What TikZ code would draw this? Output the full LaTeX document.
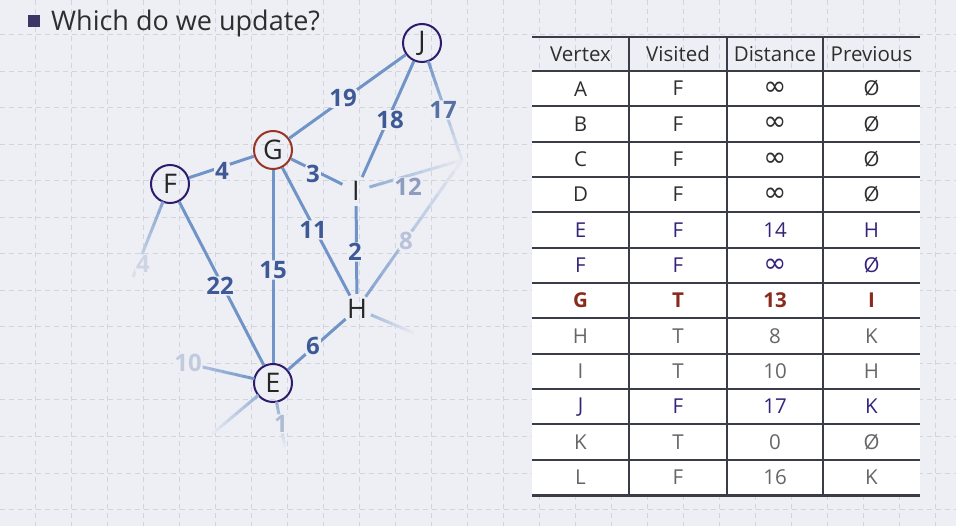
\documentclass[tikz,border=0pt]{standalone}
\usepackage{fontspec}
\setmainfont{Open Sans}
\newfontfamily\symf{DejaVu Sans}
\usetikzlibrary{calc}
\definecolor{bgc}{HTML}{EEEFF4}
\definecolor{gridc}{HTML}{D2D4DE}
\definecolor{edgeblue}{HTML}{7094C8}
\definecolor{lblblue}{HTML}{3E5A96}
\definecolor{vpurple}{HTML}{2E1B6E}
\definecolor{vred}{HTML}{9A3424}
\definecolor{tdark}{HTML}{2E2E2E}
\definecolor{tgray}{HTML}{666666}
\definecolor{tpurple}{HTML}{35237A}
\definecolor{tred}{HTML}{8A2A1C}
\definecolor{rulec}{HTML}{3A3C48}
\definecolor{bulletc}{HTML}{3D3566}
\newcommand\infsym{{\symf\scalebox{1.35}{∞}}}
\newcommand\fadeedge[5]{%
  \path ($(#1.center)!#3!(#2)$) coordinate (fs) (#2) coordinate (fe);
  \foreach \i in {0,...,11}{%
    \pgfmathtruncatemacro\pc{#4+(#5-#4)*(\i+0.5)/12}%
    \pgfmathsetmacro\ta{\i/12}%
    \pgfmathsetmacro\tb{(\i+1)/12}%
    \draw[line width=3pt, color=edgeblue!\pc!bgc] ($(fs)!\ta!(fe)$) -- ($(fs)!\tb!(fe)$);
  }}
\begin{document}
\begin{tikzpicture}[x=1pt,y=-1pt,
  edgeline/.style={line width=3pt, draw=edgeblue},
  vtx/.style={circle, draw, line width=2pt, minimum size=38pt, inner sep=0pt, font=\fontsize{27}{27}\selectfont, text=black!85},
  bare/.style={circle, minimum size=30pt, inner sep=0pt, font=\fontsize{27}{27}\selectfont, text=black!85},
  lbl/.style={font=\fontsize{24}{24}\selectfont\bfseries, text=lblblue, fill=bgc, inner sep=1pt, rounded corners=3pt},
  cell/.style={font=\fontsize{20.5}{20.5}\selectfont, anchor=center, inner sep=0pt},
  gridline/.style={gridc, line width=1pt, dash pattern=on 5pt off 4pt},
]
\fill[bgc] (0,0) rectangle (956,526);
\useasboundingbox (0,0) rectangle (956,526);
% grid
\foreach \k in {1,...,26} \draw[gridline] ({36*\k-1},0) -- ({36*\k-1},526);
\foreach \k in {0,...,13} \draw[gridline] (0,{35+36.5*\k}) -- (956,{35+36.5*\k});
% title
\fill[bulletc] (28,15) rectangle (40,27);
\node[anchor=base west, font=\fontsize{27}{27}\selectfont, text=black!82, inner sep=0pt] (title) at (51,31) {Which do we update?};
% vertices
\node[vtx, draw=vpurple] (J) at (422,43) {J};
\node[vtx, draw=vred] (G) at (273,150) {G};
\node[vtx, draw=vpurple] (F) at (170,184) {F};
\node[vtx, draw=vpurple] (E) at (273,383) {E};
\node[bare] (I) at (356,191) {I};
\node[bare] (H) at (357,309) {H};
\coordinate (K) at (462,160);
\coordinate (L) at (414,333);
\coordinate (fA) at (133,277);
\coordinate (e10) at (176,361);
\coordinate (e5) at (212,434);
\coordinate (e1) at (285,447);
% full edges
\draw[edgeline] (J) -- (G);
\draw[edgeline] (J) -- (I);
\draw[edgeline] (G) -- (F);
\draw[edgeline] (G) -- (I);
\draw[edgeline] (G) -- (H);
\draw[edgeline] (G) -- (E);
\draw[edgeline] (I) -- (H);
\draw[edgeline] (F) -- (E);
\draw[edgeline] (E) -- (H);
% fading edges
\fadeedge{J}{K}{19pt}{100}{10}
\fadeedge{I}{K}{14pt}{75}{5}
\fadeedge{H}{K}{15pt}{85}{5}
\fadeedge{H}{L}{15pt}{60}{5}
\fadeedge{F}{fA}{19pt}{85}{15}
\fadeedge{E}{e10}{19pt}{100}{30}
\fadeedge{E}{e5}{19pt}{70}{5}
\fadeedge{E}{e1}{19pt}{75}{5}
% labels
\node[lbl] (l19) at (343,98) {19};
\node[lbl] (l18) at (390,120) {18};
\node[lbl, text=lblblue!85!bgc] (l17) at (443,110) {17};
\node[lbl] (l4) at (222,171) {4};
\node[lbl] (l3) at (313,174) {3};
\node[lbl, text=lblblue!55!bgc] (l12) at (408,187) {12};
\node[lbl] (l11) at (313,230) {11};
\node[lbl] (l2) at (355,252) {2};
\node[lbl, text=lblblue!30!bgc] (l8) at (406,241) {8};
\node[lbl] (l15) at (273,270) {15};
\node[lbl] (l22) at (220,286) {22};
\node[lbl, text=lblblue!18!bgc] (l4b) at (143,264) {4};
\node[lbl] (l6) at (313,346) {6};
\node[lbl, text=lblblue!25!bgc] (l10) at (188,363) {10};
\node[lbl, text=lblblue!35!bgc] (l1) at (281,424) {1};
% table
\fill[white] (532,71) rectangle (920,495);
\foreach \x/\t [count=\c] in {580.5/Vertex, 678/Visited, 775/Distance, 871.5/Previous}
  \node[cell, text=tdark] (h\c) at (\x,54) {\t};
\foreach \v/\vis/\d/\p/\col/\fnt [count=\r] in {
  A/F/\infsym/Ø/tdark/\relax,
  B/F/\infsym/Ø/tdark/\relax,
  C/F/\infsym/Ø/tdark/\relax,
  D/F/\infsym/Ø/tdark/\relax,
  E/F/14/H/tpurple/\relax,
  F/F/\infsym/Ø/tpurple/\relax,
  G/T/13/I/tred/\bfseries,
  H/T/8/K/tgray/\relax,
  I/T/10/H/tgray/\relax,
  J/F/17/K/tpurple/\relax,
  K/T/0/Ø/tgray/\relax,
  L/F/16/K/tgray/\relax}{
  \pgfmathsetmacro\yy{71+35.333*(\r-0.5)}
  \node[cell, text=\col, font=\fontsize{20.5}{20.5}\selectfont\fnt] (v\r) at (580.5,\yy) {\v};
  \node[cell, text=\col, font=\fontsize{20.5}{20.5}\selectfont\fnt] (s\r) at (678,\yy) {\vis};
  \node[cell, text=\col, font=\fontsize{20.5}{20.5}\selectfont\fnt] (d\r) at (775,\yy) {\d};
  \node[cell, text=\col, font=\fontsize{20.5}{20.5}\selectfont\fnt] (p\r) at (871.5,\yy) {\p};
}
\foreach \r in {1,...,11} \draw[rulec, line width=1.8pt] (532,{71+35.333*\r}) -- (920,{71+35.333*\r});
\draw[rulec, line width=2pt] (532,71) -- (920,71);
\foreach \x in {629,727,823} \draw[rulec, line width=1.5pt] (\x,37) -- (\x,495);
\draw[rulec, line width=2.5pt] (532,37) -- (920,37);
\draw[rulec, line width=3pt] (532,495) -- (920,495);
\end{tikzpicture}
\end{document}
